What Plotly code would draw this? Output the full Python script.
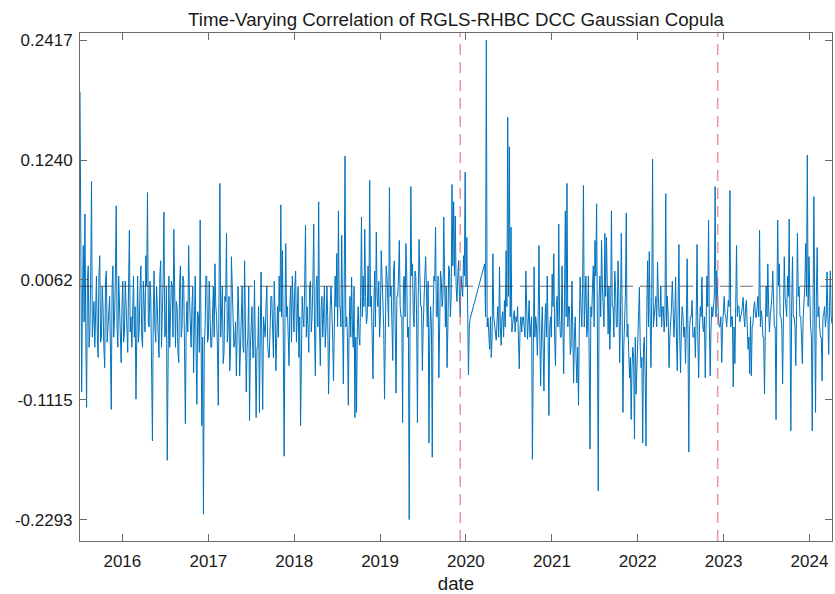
import pandas as pd
import plotly.graph_objects as go

# ---------------- data ----------------
# Segment 1: observations every 3.5 days from 2015-07-05 to Jan 2020.
# seg1_values are the weekly readings, seg1_mid the readings in between.
seg1_start = "2015-07-05"
seg1_values = [
    0.191, -0.104, 0.040, 0.071, -0.119, 0.020, -0.045, 0.103, -0.030, -0.060,
    0.010, -0.070, 0.030, -0.050, -0.020, -0.080, 0.015, -0.040, -0.010, -0.121,
    0.020, -0.030, 0.079, -0.060, -0.015, -0.075, 0.005, -0.045, -0.020, -0.065,
    0.055, -0.030, -0.005, -0.050, -0.111, 0.010, -0.040, 0.020, -0.060, -0.020,
    0.030, 0.092, -0.040, -0.010, -0.152, 0.015, -0.055, -0.020, -0.070, 0.025,
    -0.030, 0.073, -0.045, -0.171, 0.010, -0.035, 0.000, 0.056, -0.060, -0.020,
    -0.075, 0.020, -0.040, 0.005, -0.135, -0.015, 0.040, -0.050, -0.020, -0.085,
    0.010, -0.116, -0.030, 0.065, -0.137, -0.224, -0.040, 0.010, -0.050, -0.020,
    -0.060, 0.000, 0.022, -0.030, -0.117, 0.101, -0.020, -0.076, -0.010, 0.052,
    -0.040, -0.083, 0.029, -0.030, -0.055, -0.088, 0.000, -0.088, -0.030, -0.060,
    0.025, -0.104, -0.050, -0.132, -0.040, -0.070, 0.006, -0.129, -0.060, -0.124,
    0.014, -0.121, -0.045, -0.019, -0.055, -0.070, -0.010, -0.040, 0.005, -0.083,
    -0.020, 0.010, 0.080, 0.035, -0.167, 0.042, -0.020, -0.078, 0.000, 0.010,
    -0.045, 0.015, -0.030, -0.070, -0.137, -0.010, -0.040, 0.060, -0.020, -0.065,
    0.005, -0.030, 0.061, -0.088, 0.010, 0.083, -0.078, -0.010, -0.030, -0.060,
    0.000, -0.106, -0.020, -0.045, -0.093, 0.010, 0.032, 0.074, -0.020, 0.050,
    -0.096, 0.128, -0.030, -0.117, -0.010, 0.009, -0.060, -0.129, -0.124, -0.020,
    -0.058, 0.068, 0.010, 0.056, -0.037, 0.020, 0.104, -0.010, -0.091, 0.015,
    0.053, -0.020, -0.050, 0.035, -0.010, -0.111, 0.020, -0.030, 0.097, 0.000,
    -0.073, 0.025, -0.105, -0.010, 0.045, -0.030, -0.134, 0.010, 0.042, -0.050,
    -0.2293, 0.098, 0.022, -0.040, 0.010, -0.134, 0.046, -0.020, -0.083, 0.005,
    0.029, -0.040, -0.154, -0.020, -0.168, 0.010, 0.058, -0.030, -0.090, 0.015,
    -0.020, 0.068, -0.040, -0.080, 0.020, -0.030, 0.100, 0.083, 0.069, -0.015,
    0.025, -0.030, -0.004, 0.030, 0.112, 0.048, -0.087, -0.032,
]
seg1_mid = [
    -0.020, -0.010, -0.035, -0.040, 0.005, -0.060, 0.010, -0.050, -0.015, 0.000,
    -0.045, 0.010, -0.055, 0.000, -0.060, 0.005, -0.055, -0.030, -0.065, 0.000,
    -0.050, 0.010, -0.040, 0.010, -0.045, -0.020, -0.055, 0.005, -0.045, 0.000,
    -0.045, -0.060, 0.010, -0.020, -0.030, -0.055, 0.000, -0.050, 0.005, -0.045,
    0.000, -0.035, 0.005, -0.060, -0.030, -0.040, 0.000, -0.055, 0.010, -0.060,
    0.005, -0.050, 0.000, -0.040, -0.060, 0.005, -0.050, -0.030, -0.015, -0.065,
    0.000, -0.050, 0.010, -0.060, -0.040, -0.045, -0.010, -0.060, 0.000, -0.040,
    -0.060, -0.025, -0.065, -0.040, -0.050, -0.060, 0.010, -0.055, 0.005, -0.060,
    -0.020, -0.050, -0.020, -0.060, 0.000, -0.050, 0.000, -0.065, -0.015, -0.055,
    -0.010, -0.060, 0.005, -0.060, -0.035, -0.055, -0.030, -0.060, 0.000, -0.065,
    -0.030, -0.060, 0.000, -0.060, -0.020, -0.070, -0.045, -0.060, -0.020, -0.050,
    -0.060, -0.030, -0.050, 0.000, -0.070, -0.040, -0.010, -0.070, -0.025, -0.040,
    -0.050, -0.025, -0.030, -0.050, -0.040, -0.030, -0.050, -0.020, -0.055, -0.020,
    0.000, -0.055, 0.000, -0.030, -0.050, -0.030, 0.000, -0.050, -0.040, 0.000,
    -0.045, 0.005, -0.045, 0.000, -0.040, -0.040, -0.020, -0.050, 0.000, -0.040,
    -0.030, -0.040, 0.000, -0.050, -0.040, -0.020, -0.040, -0.020, -0.040, -0.030,
    0.000, -0.040, -0.050, -0.040, -0.050, -0.040, 0.000, -0.050, -0.040, -0.050,
    -0.010, -0.030, -0.020, -0.010, -0.030, -0.020, -0.020, -0.050, -0.020, -0.040,
    -0.010, 0.005, -0.030, 0.010, -0.040, -0.020, 0.010, -0.040, -0.010, -0.030,
    0.015, -0.040, -0.010, 0.010, -0.020, -0.030, 0.005, -0.030, 0.010, -0.040,
    -0.040, 0.010, -0.030, 0.015, -0.030, -0.010, 0.010, -0.020, -0.040, 0.010,
    -0.020, 0.005, -0.050, -0.040, -0.030, 0.005, -0.030, 0.010, -0.040, 0.005,
    -0.010, 0.010, 0.000, -0.040, 0.015, -0.010, 0.020, 0.010, 0.000, 0.010,
    -0.010, 0.010, -0.010, 0.010, 0.000, -0.010, -0.040,
]

# Segment 2: observations every 3.5 days from 2020-03-21 to Apr 2024.
seg2_start = "2020-03-21"
seg2_values = [
    0.022, 0.2417, -0.031, -0.062, -0.070, 0.032, -0.040, -0.053, -0.020, 0.019,
    -0.058, -0.025, -0.014, 0.035, 0.166, 0.137, 0.058, -0.034, -0.024, -0.030,
    -0.020, -0.081, -0.030, -0.031, -0.045, 0.015, -0.052, -0.014, -0.040, -0.170,
    0.019, -0.030, -0.068, 0.040, -0.098, -0.020, -0.103, -0.017, 0.010, -0.127,
    -0.030, 0.012, 0.032, -0.078, -0.010, 0.061, -0.050, 0.020, -0.086, 0.074,
    0.101, -0.020, -0.067, 0.005, -0.095, -0.030, -0.095, -0.117, 0.009, -0.040,
    0.099, -0.021, -0.050, 0.010, -0.160, -0.030, 0.020, 0.045, 0.081, -0.201,
    0.010, 0.045, -0.030, 0.052, 0.048, -0.047, -0.062, 0.074, -0.020, 0.015,
    -0.040, 0.025, -0.075, 0.052, -0.124, -0.030, 0.072, -0.037, -0.090, -0.131,
    -0.060, -0.150, -0.106, -0.050, -0.001, -0.080, -0.154, -0.050, -0.157, 0.025,
    0.034, -0.080, 0.125, -0.027, -0.010, 0.024, -0.030, 0.000, -0.020, -0.045,
    0.091, -0.010, -0.080, -0.037, 0.005, -0.050, 0.009, -0.083, 0.041, -0.085,
    -0.020, -0.050, -0.076, 0.027, -0.163, -0.030, -0.014, -0.050, -0.070, 0.041,
    -0.090, -0.020, 0.009, -0.045, -0.090, 0.010, 0.065, -0.088, -0.020, -0.014,
    0.098, 0.015, -0.030, -0.040, -0.075, -0.020, -0.027, -0.040, -0.014, 0.094,
    -0.030, -0.099, -0.076, 0.040, -0.019, -0.035, -0.027, -0.011, -0.040, -0.014,
    -0.062, -0.086, -0.088, -0.037, -0.015, -0.031, -0.010, 0.055, -0.024, -0.050,
    -0.106, 0.000, 0.022, -0.045, -0.020, 0.015, -0.040, -0.131, 0.065, 0.022,
    -0.030, -0.096, 0.029, -0.020, 0.010, 0.066, -0.142, 0.029, -0.030, -0.078,
    0.052, 0.000, -0.030, -0.076, -0.010, 0.042, 0.129, 0.029, -0.040, -0.142,
    0.088, -0.124, 0.038, -0.020, -0.050, -0.093, -0.027, -0.040, 0.014, -0.067,
    0.015, -0.037,
]
seg2_mid = [
    -0.030, -0.040, -0.045, -0.030, -0.050, -0.030, -0.045, -0.035, -0.050, -0.040,
    -0.030, -0.050, -0.040, -0.020, -0.010, -0.030, -0.045, -0.030, -0.045, -0.035,
    -0.050, -0.040, -0.045, -0.030, -0.050, -0.040, -0.035, -0.050, -0.030, -0.040,
    -0.050, -0.040, -0.030, -0.050, -0.045, -0.060, -0.040, -0.050, -0.045, -0.040,
    -0.050, -0.020, -0.050, -0.020, -0.040, -0.030, -0.050, -0.040, -0.010, -0.030,
    -0.040, -0.020, -0.060, -0.040, -0.050, -0.070, -0.060, -0.040, -0.020, 0.000,
    -0.040, 0.010, -0.040, -0.050, -0.020, 0.000, -0.040, 0.010, -0.050, -0.010,
    -0.030, 0.000, -0.040, -0.010, -0.020, 0.000, -0.030, -0.020, -0.050, 0.000,
    -0.040, -0.010, -0.030, -0.020, -0.060, -0.010, -0.050, -0.060, -0.070, -0.080,
    -0.070, -0.050, -0.080, -0.040, -0.060, -0.070, -0.060, -0.090, -0.020, -0.040,
    -0.030, -0.010, -0.040, -0.020, -0.040, -0.010, -0.030, -0.040, -0.020, -0.030,
    -0.040, -0.030, -0.050, -0.020, -0.040, -0.030, -0.050, -0.020, -0.050, -0.040,
    -0.030, -0.040, -0.040, -0.050, -0.040, -0.030, -0.050, -0.040, -0.030, -0.050,
    -0.040, -0.030, -0.040, -0.030, -0.040, -0.020, -0.040, -0.040, -0.030, -0.010,
    -0.030, -0.020, -0.040, -0.030, -0.040, -0.010, -0.030, -0.020, -0.020, -0.040,
    -0.030, -0.040, -0.020, -0.030, -0.020, -0.030, -0.020, -0.030, -0.020, -0.040,
    -0.050, -0.030, -0.040, -0.020, -0.030, -0.020, -0.030, -0.040, -0.030, -0.050,
    -0.040, -0.030, -0.020, -0.030, -0.010, -0.030, -0.040, -0.020, 0.000, -0.030,
    -0.040, -0.030, -0.010, -0.030, -0.010, -0.040, -0.020, -0.030, -0.040, -0.020,
    -0.010, -0.030, -0.050, -0.030, 0.000, -0.010, -0.020, -0.030, -0.050, -0.020,
    -0.030, -0.010, -0.030, -0.040, -0.050, -0.030, -0.020, -0.030, -0.030, -0.020,
    -0.030,
]

event_dates = ["2019-12-08", "2022-12-07"]
y_tick_values = [-0.2293, -0.1115, 0.0062, 0.1240, 0.2417]
y_tick_labels = ["-0.2293", "-0.1115", "0.0062", "0.1240", "0.2417"]
x_tick_years = [2016, 2017, 2018, 2019, 2020, 2021, 2022, 2023, 2024]
title_text = "Time-Varying Correlation of RGLS-RHBC DCC Gaussian Copula"
x_label = "date"


# ---------------- build ----------------
def interleave(vals, mids):
    out = []
    for k, v in enumerate(vals):
        out.append(v)
        if k < len(mids):
            out.append(mids[k])
    return out


s1 = interleave(seg1_values, seg1_mid)
s2 = interleave(seg2_values, seg2_mid)
d1 = pd.date_range(seg1_start, periods=len(s1), freq="84h")
d2 = pd.date_range(seg2_start, periods=len(s2), freq="84h")
dates = list(d1) + list(d2)
values = s1 + s2

FONT = "Liberation Sans, Arial, Helvetica, sans-serif"
AX = "#6a6a6a"

fig = go.Figure()
fig.add_trace(go.Scatter(
    x=dates, y=values, mode="lines",
    line=dict(color="#0072BD", width=1),
    hoverinfo="skip", showlegend=False,
))
fig.add_trace(go.Scatter(
    x=[dates[0], dates[-1]], y=[0, 0], mode="lines",
    line=dict(color="rgba(60,60,60,0.75)", width=1, dash="13px,7px"),
    hoverinfo="skip", showlegend=False,
))

for d in event_dates:
    fig.add_shape(type="line", xref="x", yref="paper", x0=d, x1=d, y0=0, y1=1,
                  line=dict(color="rgba(226,100,110,0.65)", width=1.6, dash="11px,7px"),
                  layer="above")

fig.update_layout(
    width=835, height=594,
    margin=dict(l=80, r=3, t=33, b=53),
    paper_bgcolor="white", plot_bgcolor="white",
    font=dict(family=FONT, color="#1a1a1a"),
    title=dict(text=title_text, x=0.5, xref="paper", xanchor="center",
               y=1 - 19 / 594, yref="container", yanchor="middle",
               font=dict(size=18.7, family=FONT, color="#1a1a1a")),
)
fig.update_xaxes(
    range=[dates[0], dates[-1]],
    automargin=False,
    tickvals=[f"{y}-01-01" for y in x_tick_years],
    ticktext=[str(y) for y in x_tick_years],
    ticks="inside", ticklen=7, tickcolor=AX, tickwidth=1,
    showline=True, linecolor=AX, linewidth=1, mirror="ticks",
    showgrid=False, zeroline=False,
    tickfont=dict(size=17, family=FONT, color="#1a1a1a"),
    ticklabelstandoff=5,
    title=dict(text=x_label, font=dict(size=18.7, family=FONT, color="#1a1a1a"), standoff=9),
)
fig.update_yaxes(
    range=[-0.2503, 0.2488],
    automargin=False,
    tickvals=y_tick_values, ticktext=y_tick_labels,
    ticks="inside", ticklen=7, tickcolor=AX, tickwidth=1,
    showline=True, linecolor=AX, linewidth=1, mirror="ticks",
    showgrid=False, zeroline=False,
    tickfont=dict(size=17, family=FONT, color="#1a1a1a"),
    ticklabelstandoff=3,
)

fig.write_html("out.html", config={"displayModeBar": False},
               post_script="document.body.style.margin='0px';")
